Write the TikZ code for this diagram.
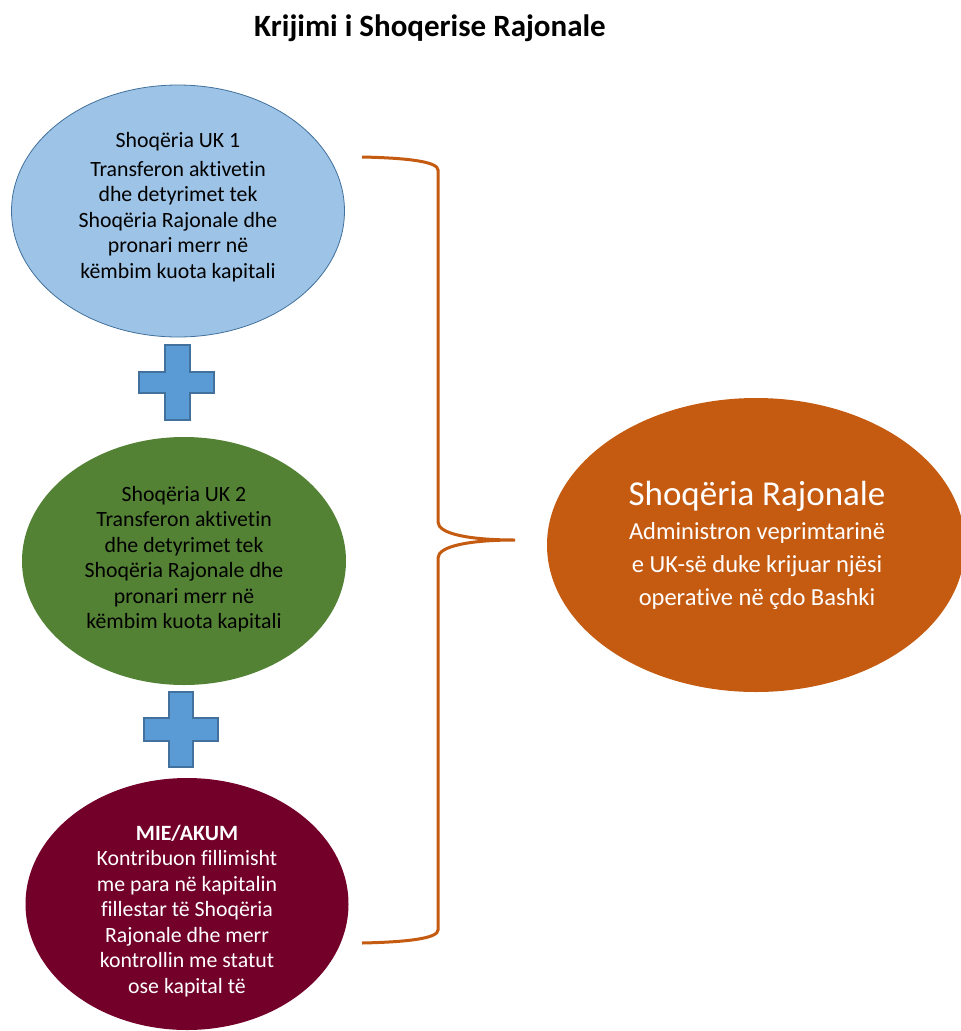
\documentclass[tikz,border=0pt]{standalone}
\usepackage{fontspec}
\setmainfont{Carlito}[Ligatures=NoCommon]
\usetikzlibrary{shapes.geometric}
\definecolor{blueFill}{HTML}{9DC3E6}
\definecolor{blueLine}{HTML}{41719C}
\definecolor{greenFill}{HTML}{548235}
\definecolor{maroonFill}{HTML}{730028}
\definecolor{orangeFill}{HTML}{C55A11}
\definecolor{plusFill}{HTML}{5B9BD5}
\tikzset{
  oval/.style={ellipse, inner sep=0pt},
  bodytext/.style={align=center, font=\fontsize{21.8}{25.5}\selectfont, inner sep=0pt},
  plusshape/.style={fill=plusFill, draw=blueLine, line width=1.2pt},
  bracket/.style={draw=orangeFill, line width=3pt},
}
\begin{document}
\begin{tikzpicture}[x=1pt,y=-1pt]
\useasboundingbox (0,0) rectangle (961,1031);
\begin{scope}
\clip (0,0) rectangle (961,1031);
% title
\node[font=\fontsize{31}{34}\selectfont\bfseries, anchor=base] (title) at (430,36) {Krijimi i Shoqerise Rajonale};
% ellipses
\node[oval, fill=blueFill, draw=blueLine, line width=0.8pt, minimum width=333pt, minimum height=252pt] (e1) at (178,211) {};
\node[oval, fill=greenFill, minimum width=324pt, minimum height=248pt] (e2) at (184,561) {};
\node[oval, fill=maroonFill, minimum width=323pt, minimum height=252pt] (e3) at (187,904) {};
\node[oval, fill=orangeFill, minimum width=418pt, minimum height=294pt] (e4) at (756,545) {};
% texts
\node[bodytext, text=black] (t1) at (178,207) {Shoqëria UK 1\\[3pt]Transferon aktivetin\\dhe detyrimet tek\\Shoqëria Rajonale dhe\\pronari merr në\\këmbim kuota kapitali};
\node[bodytext, text=black] (t2) at (184,559) {Shoqëria UK 2\\Transferon aktivetin\\dhe detyrimet tek\\Shoqëria Rajonale dhe\\pronari merr në\\këmbim kuota kapitali};
\node[bodytext, text=white] (t3) at (187,911) {\textbf{MIE/AKUM}\\Kontribuon fillimisht\\me para në kapitalin\\fillestar të Shoqëria\\Rajonale dhe merr\\kontrollin me statut\\ose kapital të};
\node[align=center, text=white, inner sep=0pt, font=\fontsize{35}{38}\selectfont] (t4a) at (757,496) {Shoqëria Rajonale};
\node[align=center, text=white, inner sep=0pt, font=\fontsize{24.5}{33}\selectfont, anchor=north] (t4b) at (757,522) {Administron veprimtarinë\\e UK-së duke krijuar njësi\\operative në çdo Bashki};
% plus signs
\draw[plusshape] (165,345) -- (190,345) -- (190,372) -- (214,372) -- (214,393) -- (190,393) -- (190,420) -- (165,420) -- (165,393) -- (139,393) -- (139,372) -- (165,372) -- cycle;
\node[inner sep=0pt] (p1) at (177,382) {};
\draw[plusshape] (169,692) -- (193,692) -- (193,718) -- (218,718) -- (218,741) -- (193,741) -- (193,767) -- (169,767) -- (169,741) -- (144,741) -- (144,718) -- (169,718) -- cycle;
\node[inner sep=0pt] (p2) at (181,729) {};
% brace
\coordinate (btop) at (362,157);
\coordinate (bbot) at (362,943);
\coordinate (btip) at (515,540);
\draw[bracket] (btop) .. controls (410,158) and (438,162) .. (438,170) -- (438,522)
  .. controls (438,534) and (470,540) .. (btip)
  .. controls (470,540) and (438,546) .. (438,558) -- (438,930)
  .. controls (438,938) and (410,942) .. (bbot);
\end{scope}
\end{tikzpicture}
\end{document}
